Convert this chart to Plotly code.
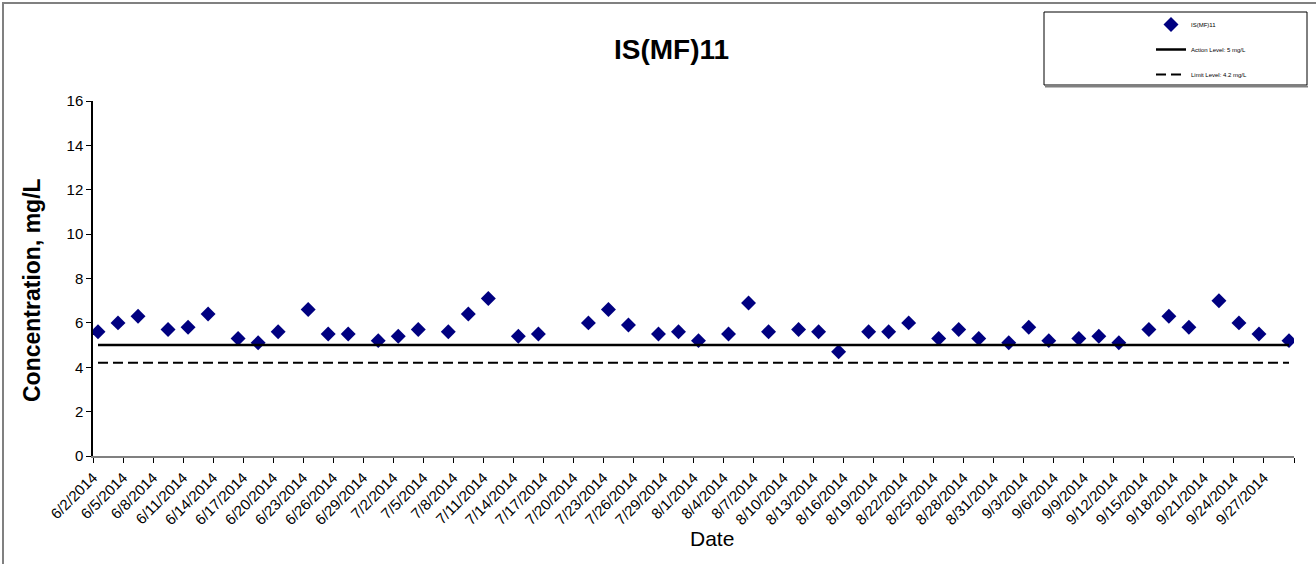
import plotly.graph_objects as go
import pandas as pd

# ---------------- data ----------------
sample_dates = [
    "2014-06-02", "2014-06-04", "2014-06-06", "2014-06-09", "2014-06-11", "2014-06-13",
    "2014-06-16", "2014-06-18", "2014-06-20", "2014-06-23", "2014-06-25", "2014-06-27",
    "2014-06-30", "2014-07-02", "2014-07-04", "2014-07-07", "2014-07-09", "2014-07-11",
    "2014-07-14", "2014-07-16", "2014-07-21", "2014-07-23", "2014-07-25", "2014-07-28",
    "2014-07-30", "2014-08-01", "2014-08-04", "2014-08-06", "2014-08-08", "2014-08-11",
    "2014-08-13", "2014-08-15", "2014-08-18", "2014-08-20", "2014-08-22", "2014-08-25",
    "2014-08-27", "2014-08-29", "2014-09-01", "2014-09-03", "2014-09-05", "2014-09-08",
    "2014-09-10", "2014-09-12", "2014-09-15", "2014-09-17", "2014-09-19", "2014-09-22",
    "2014-09-24", "2014-09-26", "2014-09-29",
]
concentration = [
    5.6, 6.0, 6.3, 5.7, 5.8, 6.4,
    5.3, 5.1, 5.6, 6.6, 5.5, 5.5,
    5.2, 5.4, 5.7, 5.6, 6.4, 7.1,
    5.4, 5.5, 6.0, 6.6, 5.9, 5.5,
    5.6, 5.2, 5.5, 6.9, 5.6, 5.7,
    5.6, 4.7, 5.6, 5.6, 6.0, 5.3,
    5.7, 5.3, 5.1, 5.8, 5.2, 5.3,
    5.4, 5.1, 5.7, 6.3, 5.8, 7.0,
    6.0, 5.5, 5.2,
]
action_level = 5.0
limit_level = 4.2
series_name = "IS(MF)11"
action_name = "Action Level: 5 mg/L"
limit_name = "Limit Level: 4.2 mg/L"

axis_start = "2014-06-02"
axis_end = "2014-09-30"
tick_dates = pd.date_range(axis_start, axis_end, freq="3D")
tick_labels = [f"{d.month}/{d.day}/{d.year}" for d in tick_dates]
tick_labels[-1] = ""  # last tick (9/30) has no label in the reference

y_ticks = [0, 2, 4, 6, 8, 10, 12, 14, 16]

# ---------------- layout helpers ----------------
W, H = 1316, 564
L, R, T, B = 93, 22, 101, 108
FONT = "Arial, Liberation Sans, sans-serif"


def px(x):
    return (x - L) / (W - L - R)


def py(y):
    return (H - B - y) / (H - T - B)


# points sit in the middle of their day on the date axis
x_pts = pd.to_datetime(sample_dates) + pd.Timedelta(hours=12)
x_span = [x_pts[0], x_pts[-1]]

fig = go.Figure()
fig.add_trace(go.Scatter(
    x=x_pts, y=concentration, mode="markers", name=series_name,
    legendgroup="a",
    marker=dict(symbol="diamond", size=11.5, color="#000080",
                line=dict(color="#000080", width=0)),
))
fig.add_trace(go.Scatter(
    x=x_span, y=[action_level, action_level], mode="lines", name=action_name,
    legendgroup="b",
    line=dict(color="black", width=2.5),
))
fig.add_trace(go.Scatter(
    x=x_span, y=[limit_level, limit_level], mode="lines", name=limit_name,
    legendgroup="c",
    line=dict(color="black", width=2, dash="10px,5px"),
))

fig.update_layout(
    width=W, height=H,
    margin=dict(l=L, r=R, t=T, b=B, autoexpand=False),
    paper_bgcolor="white", plot_bgcolor="white",
    font=dict(family=FONT, color="black"),
    showlegend=True,
    legend=dict(
        x=px(1151), y=py(10), xanchor="left", yanchor="top",
        bgcolor="rgba(0,0,0,0)", borderwidth=0,
        font=dict(size=6, family=FONT, color="black"),
        tracegroupgap=6, traceorder="grouped",
    ),
    xaxis=dict(
        type="date", range=[axis_start, axis_end],
        tickmode="array", tickvals=list(tick_dates), ticktext=tick_labels,
        tickangle=-45, ticks="outside", ticklen=5, tickcolor="black", tickwidth=1,
        showline=True, linecolor="#808080", linewidth=2,
        showgrid=False, zeroline=False,
        tickfont=dict(size=15, family=FONT, color="black"),
        automargin=False,
    ),
    yaxis=dict(
        range=[0, 16], tickmode="array", tickvals=y_ticks,
        ticks="outside", ticklen=5, tickcolor="black", tickwidth=1,
        showline=True, linecolor="black", linewidth=1.5,
        showgrid=False, zeroline=False,
        tickfont=dict(size=15, family=FONT, color="black"),
        automargin=False,
    ),
    annotations=[
        dict(text="<b>IS(MF)11</b>", xref="paper", yref="paper",
             x=px(671), y=py(50), xanchor="center", yanchor="middle",
             showarrow=False, font=dict(size=28, family=FONT, color="black")),
        dict(text="<b>Concentration, mg/L</b>", xref="paper", yref="paper",
             x=px(32), y=py(290), xanchor="center", yanchor="middle",
             textangle=-90, showarrow=False,
             font=dict(size=23, family=FONT, color="black")),
        dict(text="Date", xref="paper", yref="paper",
             x=px(712), y=py(538), xanchor="center", yanchor="middle",
             showarrow=False, font=dict(size=21, family=FONT, color="black")),
    ],
    shapes=[
        # outer chart frame (left and top edges visible)
        dict(type="rect", xref="paper", yref="paper",
             x0=px(3), x1=px(1340), y0=py(590), y1=py(3),
             line=dict(color="#808080", width=2), fillcolor="rgba(0,0,0,0)", layer="below"),
        # legend box
        dict(type="rect", xref="paper", yref="paper",
             x0=px(1044), x1=px(1307), y0=py(85), y1=py(12),
             line=dict(color="black", width=1), fillcolor="white", layer="below"),
        dict(type="line", xref="paper", yref="paper",
             x0=px(1045), x1=px(1308), y0=py(86.5), y1=py(86.5),
             line=dict(color="#808080", width=2)),
    ],
)

fig.write_html(
    "out.html",
    config={"displayModeBar": False},
    post_script="document.body.style.margin='0';document.body.style.overflow='hidden';",
)
